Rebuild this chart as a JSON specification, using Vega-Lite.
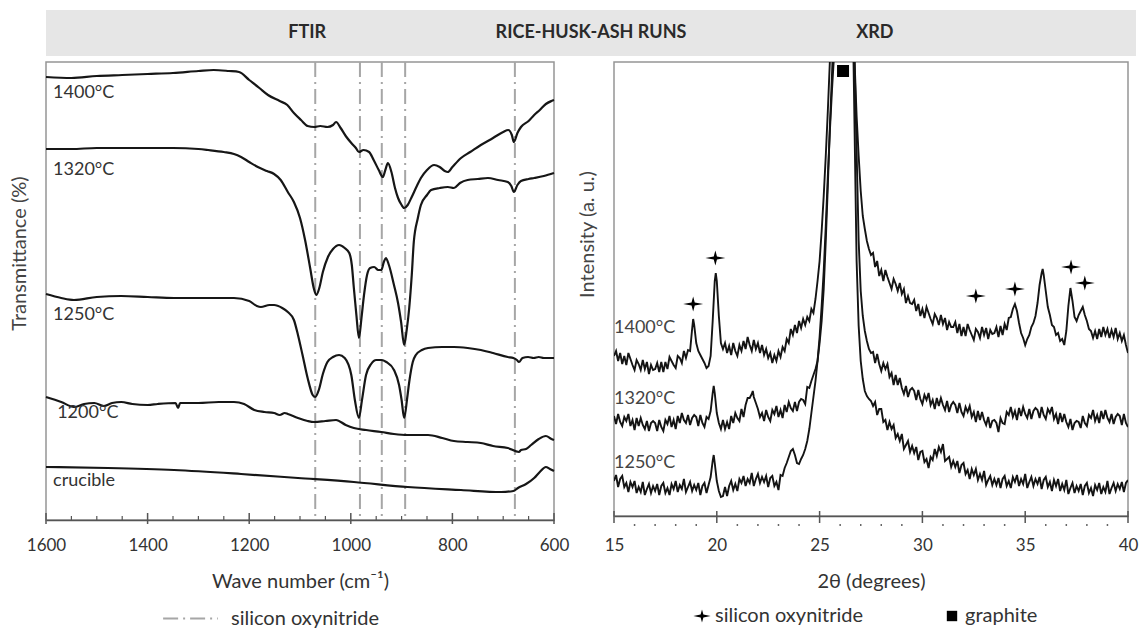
{
"$schema": "https://vega.github.io/schema/vega-lite/v6.json",
"padding": {"left": 8, "top": 10, "right": 8, "bottom": 2},
"background": "white",
"config": {
  "font": "Lato",
  "view": {"stroke": "#8f8f8f", "strokeWidth": 1.5},
  "axis": {"labelFont": "Lato", "titleFont": "Lato", "labelColor": "#333333", "titleColor": "#333333", "titleFontWeight": "normal", "grid": false, "labelFlush": false},
  "legend": {"labelFont": "Lato", "labelColor": "#333333"}
},
"spacing": 6,
"bounds": "flush",
"vconcat": [
{
  "width": 1090, "height": 46,
  "view": {"fill": "#e6e6e6", "stroke": null},
  "data": {"values": [{"h": "FTIR"}, {"h": "RICE-HUSK-ASH RUNS"}, {"h": "XRD"}]},
  "mark": {"type": "text", "fontSize": 18, "fontWeight": "bold", "color": "#2a2a2a", "baseline": "middle"},
  "encoding": {
    "x": {"field": "h", "type": "nominal", "sort": null, "scale": {"type": "point", "padding": 0.92}, "axis": null},
    "text": {"field": "h"}
  }
},
{
  "spacing": 60,
  "bounds": "flush",
  "resolve": {"scale": {"strokeDash": "independent", "shape": "independent"}, "legend": {"strokeDash": "independent", "shape": "independent"}},
  "hconcat": [
  {
    "width": 508, "height": 458,
    "view": {"stroke": "#959595", "strokeWidth": 1.5},
    "layer": [
      {
        "data": {"values": [
          {"wn": 1070, "ref": "silicon oxynitride"}, {"wn": 982, "ref": "silicon oxynitride"}, {"wn": 939, "ref": "silicon oxynitride"}, {"wn": 893, "ref": "silicon oxynitride"}, {"wn": 677, "ref": "silicon oxynitride"}
        ]},
        "mark": {"type": "rule", "color": "#a6a6a6", "strokeWidth": 2},
        "encoding": {
          "x": {"field": "wn", "type": "quantitative", "scale": {"domain": [1600, 600], "nice": false, "zero": false},
                "axis": {"values": [1600, 1400, 1200, 1000, 800, 600], "format": "d", "title": "Wave number (cm⁻¹)", "titleFontSize": 20, "labelFontSize": 17, "ticks": false, "labelPadding": 17, "labelFlush": false, "domainColor": "#555555", "domainWidth": 1.5, "titleBaseline": "middle", "titleY": 61}},
          "strokeDash": {"field": "ref", "type": "nominal", "scale": {"domain": ["silicon oxynitride"], "range": [[15, 5, 2, 5]]},
                "legend": {"orient": "none", "legendX": 116, "legendY": 528, "title": null, "padding": 0, "symbolType": "stroke", "symbolSize": 3000, "symbolStrokeWidth": 2, "symbolStrokeColor": "#a6a6a6", "labelFontSize": 20, "labelOffset": 12}}
        }
      },
      {
        "data": {"values": [
          {"wn": 1600}, {"wn": 1400}, {"wn": 1200}, {"wn": 1000}, {"wn": 800}, {"wn": 600}
        ]},
        "mark": {"type": "rule", "color": "#555555", "strokeWidth": 1.5},
        "encoding": {
          "x": {"field": "wn", "type": "quantitative"},
          "y": {"datum": -4},
          "y2": {"datum": 7}
        }
      },
      {
        "data": {"values": [
          {"wn": 1550}, {"wn": 1500}, {"wn": 1450}, {"wn": 1350}, {"wn": 1300}, {"wn": 1250}, {"wn": 1150}, {"wn": 1100}, {"wn": 1050}, {"wn": 950}, {"wn": 900}, {"wn": 850}, {"wn": 750}, {"wn": 700}, {"wn": 650}
        ]},
        "mark": {"type": "rule", "color": "#555555", "strokeWidth": 1.2},
        "encoding": {
          "x": {"field": "wn", "type": "quantitative"},
          "y": {"datum": 0},
          "y2": {"datum": 4}
        }
      },
      {
        "data": {"values": [
{"s":"1400","wn":1600,"T":443},{"s":"1400","wn":1550,"T":442},{"s":"1400","wn":1500,"T":444},{"s":"1400","wn":1450,"T":445},{"s":"1400","wn":1400,"T":446},{"s":"1400","wn":1350,"T":447},{"s":"1400","wn":1300,"T":449},{"s":"1400","wn":1270,"T":450},{"s":"1400","wn":1240,"T":449},{"s":"1400","wn":1220,"T":448},{"s":"1400","wn":1200,"T":440},{"s":"1400","wn":1180,"T":432},{"s":"1400","wn":1163,"T":425},{"s":"1400","wn":1140,"T":419},{"s":"1400","wn":1125,"T":415},{"s":"1400","wn":1112,"T":407},{"s":"1400","wn":1098,"T":400},{"s":"1400","wn":1085,"T":394},{"s":"1400","wn":1072,"T":393},{"s":"1400","wn":1060,"T":394},{"s":"1400","wn":1046,"T":393},{"s":"1400","wn":1035,"T":395},{"s":"1400","wn":1029,"T":398},{"s":"1400","wn":1020,"T":392},{"s":"1400","wn":1010,"T":384},{"s":"1400","wn":999,"T":377},{"s":"1400","wn":990,"T":372},{"s":"1400","wn":984,"T":368},{"s":"1400","wn":975,"T":370},{"s":"1400","wn":964,"T":368},{"s":"1400","wn":955,"T":360},{"s":"1400","wn":945,"T":350},{"s":"1400","wn":937,"T":343},{"s":"1400","wn":932,"T":350},{"s":"1400","wn":927,"T":357},{"s":"1400","wn":920,"T":348},{"s":"1400","wn":913,"T":332},{"s":"1400","wn":907,"T":322},{"s":"1400","wn":900,"T":315},{"s":"1400","wn":895,"T":312},{"s":"1400","wn":888,"T":315},{"s":"1400","wn":881,"T":322},{"s":"1400","wn":870,"T":334},{"s":"1400","wn":862,"T":342},{"s":"1400","wn":850,"T":350},{"s":"1400","wn":836,"T":355},{"s":"1400","wn":825,"T":353},{"s":"1400","wn":815,"T":349},{"s":"1400","wn":809,"T":348},{"s":"1400","wn":800,"T":353},{"s":"1400","wn":783,"T":362},{"s":"1400","wn":765,"T":368},{"s":"1400","wn":744,"T":375},{"s":"1400","wn":720,"T":382},{"s":"1400","wn":700,"T":388},{"s":"1400","wn":690,"T":390},{"s":"1400","wn":683,"T":385},{"s":"1400","wn":679,"T":378},{"s":"1400","wn":672,"T":387},{"s":"1400","wn":665,"T":393},{"s":"1400","wn":650,"T":399},{"s":"1400","wn":639,"T":405},{"s":"1400","wn":628,"T":410},{"s":"1400","wn":616,"T":416},{"s":"1400","wn":605,"T":419},{"s":"1400","wn":600,"T":420},
{"s":"1320","wn":1600,"T":371},{"s":"1320","wn":1550,"T":371},{"s":"1320","wn":1500,"T":372},{"s":"1320","wn":1450,"T":372},{"s":"1320","wn":1400,"T":372},{"s":"1320","wn":1350,"T":372},{"s":"1320","wn":1300,"T":371},{"s":"1320","wn":1281,"T":370},{"s":"1320","wn":1250,"T":368},{"s":"1320","wn":1230,"T":366},{"s":"1320","wn":1216,"T":363},{"s":"1320","wn":1200,"T":358},{"s":"1320","wn":1183,"T":353},{"s":"1320","wn":1165,"T":349},{"s":"1320","wn":1151,"T":346},{"s":"1320","wn":1138,"T":340},{"s":"1320","wn":1124,"T":328},{"s":"1320","wn":1112,"T":318},{"s":"1320","wn":1100,"T":302},{"s":"1320","wn":1090,"T":280},{"s":"1320","wn":1080,"T":252},{"s":"1320","wn":1073,"T":232},{"s":"1320","wn":1068,"T":225},{"s":"1320","wn":1062,"T":232},{"s":"1320","wn":1055,"T":248},{"s":"1320","wn":1045,"T":263},{"s":"1320","wn":1035,"T":271},{"s":"1320","wn":1023,"T":275},{"s":"1320","wn":1012,"T":272},{"s":"1320","wn":1003,"T":267},{"s":"1320","wn":998,"T":255},{"s":"1320","wn":994,"T":232},{"s":"1320","wn":989,"T":205},{"s":"1320","wn":984,"T":182},{"s":"1320","wn":979,"T":202},{"s":"1320","wn":974,"T":225},{"s":"1320","wn":968,"T":245},{"s":"1320","wn":962,"T":252},{"s":"1320","wn":954,"T":253},{"s":"1320","wn":946,"T":250},{"s":"1320","wn":940,"T":250},{"s":"1320","wn":935,"T":258},{"s":"1320","wn":931,"T":262},{"s":"1320","wn":925,"T":255},{"s":"1320","wn":915,"T":235},{"s":"1320","wn":907,"T":217},{"s":"1320","wn":901,"T":198},{"s":"1320","wn":895,"T":175},{"s":"1320","wn":890,"T":190},{"s":"1320","wn":885,"T":212},{"s":"1320","wn":880,"T":245},{"s":"1320","wn":876,"T":278},{"s":"1320","wn":868,"T":302},{"s":"1320","wn":862,"T":315},{"s":"1320","wn":850,"T":325},{"s":"1320","wn":842,"T":330},{"s":"1320","wn":825,"T":332},{"s":"1320","wn":809,"T":333},{"s":"1320","wn":797,"T":332},{"s":"1320","wn":785,"T":337},{"s":"1320","wn":770,"T":340},{"s":"1320","wn":750,"T":341},{"s":"1320","wn":730,"T":342},{"s":"1320","wn":710,"T":340},{"s":"1320","wn":691,"T":338},{"s":"1320","wn":684,"T":334},{"s":"1320","wn":679,"T":328},{"s":"1320","wn":672,"T":335},{"s":"1320","wn":665,"T":339},{"s":"1320","wn":650,"T":341},{"s":"1320","wn":639,"T":342},{"s":"1320","wn":620,"T":344},{"s":"1320","wn":600,"T":347},
{"s":"1250","wn":1600,"T":226},{"s":"1250","wn":1570,"T":222},{"s":"1250","wn":1545,"T":220},{"s":"1250","wn":1500,"T":223},{"s":"1250","wn":1452,"T":224},{"s":"1250","wn":1400,"T":223},{"s":"1250","wn":1348,"T":222},{"s":"1250","wn":1300,"T":222},{"s":"1250","wn":1230,"T":222},{"s":"1250","wn":1200,"T":219},{"s":"1250","wn":1185,"T":214},{"s":"1250","wn":1177,"T":213},{"s":"1250","wn":1160,"T":215},{"s":"1250","wn":1151,"T":215},{"s":"1250","wn":1135,"T":212},{"s":"1250","wn":1124,"T":208},{"s":"1250","wn":1112,"T":200},{"s":"1250","wn":1104,"T":185},{"s":"1250","wn":1095,"T":165},{"s":"1250","wn":1085,"T":142},{"s":"1250","wn":1075,"T":125},{"s":"1250","wn":1070,"T":123},{"s":"1250","wn":1063,"T":130},{"s":"1250","wn":1055,"T":146},{"s":"1250","wn":1046,"T":158},{"s":"1250","wn":1035,"T":163},{"s":"1250","wn":1023,"T":165},{"s":"1250","wn":1012,"T":162},{"s":"1250","wn":999,"T":145},{"s":"1250","wn":992,"T":120},{"s":"1250","wn":984,"T":102},{"s":"1250","wn":978,"T":120},{"s":"1250","wn":970,"T":145},{"s":"1250","wn":960,"T":156},{"s":"1250","wn":950,"T":160},{"s":"1250","wn":940,"T":160},{"s":"1250","wn":930,"T":158},{"s":"1250","wn":915,"T":150},{"s":"1250","wn":905,"T":135},{"s":"1250","wn":900,"T":120},{"s":"1250","wn":895,"T":102},{"s":"1250","wn":889,"T":122},{"s":"1250","wn":885,"T":138},{"s":"1250","wn":878,"T":158},{"s":"1250","wn":872,"T":165},{"s":"1250","wn":860,"T":170},{"s":"1250","wn":848,"T":172},{"s":"1250","wn":820,"T":173},{"s":"1250","wn":797,"T":173},{"s":"1250","wn":770,"T":172},{"s":"1250","wn":744,"T":170},{"s":"1250","wn":720,"T":167},{"s":"1250","wn":691,"T":163},{"s":"1250","wn":680,"T":162},{"s":"1250","wn":673,"T":160},{"s":"1250","wn":669,"T":158},{"s":"1250","wn":662,"T":162},{"s":"1250","wn":651,"T":163},{"s":"1250","wn":640,"T":162},{"s":"1250","wn":630,"T":163},{"s":"1250","wn":620,"T":162},{"s":"1250","wn":600,"T":162},
{"s":"1200","wn":1600,"T":123},{"s":"1200","wn":1570,"T":118},{"s":"1200","wn":1545,"T":113},{"s":"1200","wn":1525,"T":116},{"s":"1200","wn":1505,"T":117},{"s":"1200","wn":1486,"T":114},{"s":"1200","wn":1470,"T":117},{"s":"1200","wn":1452,"T":118},{"s":"1200","wn":1430,"T":116},{"s":"1200","wn":1400,"T":115},{"s":"1200","wn":1380,"T":116},{"s":"1200","wn":1345,"T":117},{"s":"1200","wn":1340,"T":112},{"s":"1200","wn":1336,"T":117},{"s":"1200","wn":1300,"T":117},{"s":"1200","wn":1260,"T":118},{"s":"1200","wn":1230,"T":118},{"s":"1200","wn":1210,"T":116},{"s":"1200","wn":1190,"T":110},{"s":"1200","wn":1170,"T":108},{"s":"1200","wn":1151,"T":107},{"s":"1200","wn":1140,"T":105},{"s":"1200","wn":1130,"T":107},{"s":"1200","wn":1124,"T":106},{"s":"1200","wn":1104,"T":102},{"s":"1200","wn":1085,"T":99},{"s":"1200","wn":1072,"T":98},{"s":"1200","wn":1050,"T":99},{"s":"1200","wn":1029,"T":100},{"s":"1200","wn":1010,"T":95},{"s":"1200","wn":994,"T":92},{"s":"1200","wn":970,"T":90},{"s":"1200","wn":940,"T":88},{"s":"1200","wn":915,"T":86},{"s":"1200","wn":888,"T":85},{"s":"1200","wn":848,"T":85},{"s":"1200","wn":820,"T":82},{"s":"1200","wn":797,"T":79},{"s":"1200","wn":770,"T":78},{"s":"1200","wn":744,"T":77},{"s":"1200","wn":720,"T":74},{"s":"1200","wn":691,"T":72},{"s":"1200","wn":669,"T":68},{"s":"1200","wn":665,"T":70},{"s":"1200","wn":655,"T":71},{"s":"1200","wn":645,"T":75},{"s":"1200","wn":630,"T":81},{"s":"1200","wn":616,"T":84},{"s":"1200","wn":605,"T":81},{"s":"1200","wn":600,"T":80},
{"s":"cr","wn":1600,"T":53},{"s":"cr","wn":1478,"T":52},{"s":"cr","wn":1348,"T":50},{"s":"cr","wn":1216,"T":46},{"s":"cr","wn":1104,"T":42},{"s":"cr","wn":994,"T":38},{"s":"cr","wn":888,"T":33},{"s":"cr","wn":783,"T":30},{"s":"cr","wn":704,"T":28},{"s":"cr","wn":680,"T":29},{"s":"cr","wn":671,"T":32},{"s":"cr","wn":655,"T":36},{"s":"cr","wn":639,"T":42},{"s":"cr","wn":628,"T":48},{"s":"cr","wn":616,"T":53},{"s":"cr","wn":608,"T":51},{"s":"cr","wn":600,"T":49}
        ]},
        "mark": {"type": "line", "interpolate": "monotone", "strokeWidth": 2.2, "color": "#161616"},
        "encoding": {
          "x": {"field": "wn", "type": "quantitative"},
          "y": {"field": "T", "type": "quantitative", "scale": {"domain": [0, 458], "nice": false, "zero": false},
                "axis": {"title": "Transmittance (%)", "labels": false, "ticks": false, "domain": false, "titleFontSize": 20, "titleX": -21, "titleY": 191, "titleBaseline": "alphabetic", "titleColor": "#444444"}},
          "detail": {"field": "s", "type": "nominal"}
        }
      },
      {
        "data": {"values": [
          {"wn": 1586, "T": 427, "label": "1400°C"}, {"wn": 1586, "T": 350, "label": "1320°C"}, {"wn": 1586, "T": 205, "label": "1250°C"}, {"wn": 1578, "T": 107, "label": "1200°C"}, {"wn": 1586, "T": 39, "label": "crucible"}
        ]},
        "mark": {"type": "text", "align": "left", "baseline": "middle", "fontSize": 18, "color": "#333333"},
        "encoding": {
          "x": {"field": "wn", "type": "quantitative"},
          "y": {"field": "T", "type": "quantitative"},
          "text": {"field": "label"}
        }
      }
    ]
  },
  {
    "width": 514, "height": 454,
    "view": {"stroke": "#959595", "strokeWidth": 1.5},
    "layer": [
      {
        "data": {"values": [{"t": 15}, {"t": 20}, {"t": 25}, {"t": 30}, {"t": 35}, {"t": 40}]},
        "mark": {"type": "rule", "color": "#555555", "strokeWidth": 1.5},
        "encoding": {
          "x": {"field": "t", "type": "quantitative", "scale": {"domain": [15, 40], "nice": false, "zero": false},
                "axis": {"values": [15, 20, 25, 30, 35, 40], "title": "2θ (degrees)", "titleFontSize": 20, "labelFontSize": 17, "ticks": false, "labelPadding": 21, "labelFlush": false, "domainColor": "#555555", "domainWidth": 1.5, "titleBaseline": "middle", "titleY": 65}},
          "y": {"datum": -2},
          "y2": {"datum": 10}
        }
      },
      {
        "data": {"values": [{"t": 16}, {"t": 17}, {"t": 18}, {"t": 19}, {"t": 21}, {"t": 22}, {"t": 23}, {"t": 24}, {"t": 26}, {"t": 27}, {"t": 28}, {"t": 29}, {"t": 31}, {"t": 32}, {"t": 33}, {"t": 34}, {"t": 36}, {"t": 37}, {"t": 38}, {"t": 39}]},
        "mark": {"type": "rule", "color": "#666666", "strokeWidth": 1.5},
        "encoding": {
          "x": {"field": "t", "type": "quantitative"},
          "y": {"datum": -3},
          "y2": {"datum": -5}
        }
      },
      {
        "data": {"values": [
{"s":"1400","t":15.0,"I":165},{"s":"1400","t":15.1,"I":170},{"s":"1400","t":15.2,"I":160},{"s":"1400","t":15.3,"I":168},{"s":"1400","t":15.4,"I":157},{"s":"1400","t":15.5,"I":165},{"s":"1400","t":15.6,"I":156},{"s":"1400","t":15.7,"I":168},{"s":"1400","t":15.8,"I":162},{"s":"1400","t":15.9,"I":156},{"s":"1400","t":16.0,"I":151},{"s":"1400","t":16.1,"I":161},{"s":"1400","t":16.2,"I":157},{"s":"1400","t":16.3,"I":151},{"s":"1400","t":16.4,"I":161},{"s":"1400","t":16.5,"I":152},{"s":"1400","t":16.6,"I":159},{"s":"1400","t":16.7,"I":147},{"s":"1400","t":16.8,"I":156},{"s":"1400","t":16.9,"I":151},{"s":"1400","t":17.0,"I":152},{"s":"1400","t":17.1,"I":158},{"s":"1400","t":17.2,"I":149},{"s":"1400","t":17.3,"I":159},{"s":"1400","t":17.4,"I":149},{"s":"1400","t":17.5,"I":159},{"s":"1400","t":17.6,"I":152},{"s":"1400","t":17.7,"I":164},{"s":"1400","t":17.8,"I":160},{"s":"1400","t":17.9,"I":156},{"s":"1400","t":18.0,"I":153},{"s":"1400","t":18.1,"I":165},{"s":"1400","t":18.2,"I":163},{"s":"1400","t":18.3,"I":158},{"s":"1400","t":18.4,"I":170},{"s":"1400","t":18.5,"I":163},{"s":"1400","t":18.6,"I":171},{"s":"1400","t":18.7,"I":170},{"s":"1400","t":18.8,"I":192},{"s":"1400","t":18.85,"I":202},{"s":"1400","t":18.9,"I":196},{"s":"1400","t":19.0,"I":178},{"s":"1400","t":19.1,"I":170},{"s":"1400","t":19.2,"I":166},{"s":"1400","t":19.3,"I":162},{"s":"1400","t":19.4,"I":158},{"s":"1400","t":19.5,"I":153},{"s":"1400","t":19.6,"I":155},{"s":"1400","t":19.7,"I":165},{"s":"1400","t":19.8,"I":200},{"s":"1400","t":19.9,"I":240},{"s":"1400","t":19.95,"I":248},{"s":"1400","t":20.0,"I":240},{"s":"1400","t":20.1,"I":205},{"s":"1400","t":20.2,"I":178},{"s":"1400","t":20.3,"I":172},{"s":"1400","t":20.4,"I":178},{"s":"1400","t":20.5,"I":168},{"s":"1400","t":20.6,"I":175},{"s":"1400","t":20.7,"I":166},{"s":"1400","t":20.8,"I":178},{"s":"1400","t":20.9,"I":170},{"s":"1400","t":21.0,"I":165},{"s":"1400","t":21.1,"I":176},{"s":"1400","t":21.2,"I":170},{"s":"1400","t":21.3,"I":180},{"s":"1400","t":21.4,"I":172},{"s":"1400","t":21.5,"I":184},{"s":"1400","t":21.6,"I":176},{"s":"1400","t":21.7,"I":170},{"s":"1400","t":21.8,"I":181},{"s":"1400","t":21.9,"I":172},{"s":"1400","t":22.0,"I":178},{"s":"1400","t":22.1,"I":168},{"s":"1400","t":22.2,"I":176},{"s":"1400","t":22.3,"I":166},{"s":"1400","t":22.4,"I":172},{"s":"1400","t":22.5,"I":163},{"s":"1400","t":22.6,"I":168},{"s":"1400","t":22.7,"I":158},{"s":"1400","t":22.8,"I":166},{"s":"1400","t":22.9,"I":160},{"s":"1400","t":23.0,"I":170},{"s":"1400","t":23.1,"I":164},{"s":"1400","t":23.2,"I":174},{"s":"1400","t":23.3,"I":170},{"s":"1400","t":23.4,"I":182},{"s":"1400","t":23.5,"I":178},{"s":"1400","t":23.6,"I":192},{"s":"1400","t":23.7,"I":186},{"s":"1400","t":23.8,"I":196},{"s":"1400","t":23.9,"I":188},{"s":"1400","t":24.0,"I":200},{"s":"1400","t":24.1,"I":193},{"s":"1400","t":24.2,"I":202},{"s":"1400","t":24.3,"I":196},{"s":"1400","t":24.4,"I":204},{"s":"1400","t":24.5,"I":200},{"s":"1400","t":24.6,"I":212},{"s":"1400","t":24.7,"I":208},{"s":"1400","t":24.8,"I":222},{"s":"1400","t":24.9,"I":240},{"s":"1400","t":25.0,"I":260},{"s":"1400","t":25.1,"I":290},{"s":"1400","t":25.2,"I":325},{"s":"1400","t":25.3,"I":365},{"s":"1400","t":25.4,"I":410},{"s":"1400","t":25.5,"I":460},{"s":"1400","t":25.6,"I":530},{"s":"1400","t":25.8,"I":680},{"s":"1400","t":26.0,"I":820},{"s":"1400","t":26.2,"I":900},{"s":"1400","t":26.4,"I":860},{"s":"1400","t":26.5,"I":720},{"s":"1400","t":26.6,"I":560},{"s":"1400","t":26.7,"I":460},{"s":"1400","t":26.8,"I":405},{"s":"1400","t":26.9,"I":365},{"s":"1400","t":27.0,"I":330},{"s":"1400","t":27.1,"I":305},{"s":"1400","t":27.2,"I":292},{"s":"1400","t":27.3,"I":280},{"s":"1400","t":27.4,"I":272},{"s":"1400","t":27.5,"I":266},{"s":"1400","t":27.6,"I":268},{"s":"1400","t":27.7,"I":254},{"s":"1400","t":27.8,"I":260},{"s":"1400","t":27.9,"I":245},{"s":"1400","t":28.0,"I":251},{"s":"1400","t":28.1,"I":240},{"s":"1400","t":28.2,"I":251},{"s":"1400","t":28.3,"I":244},{"s":"1400","t":28.4,"I":238},{"s":"1400","t":28.5,"I":232},{"s":"1400","t":28.6,"I":242},{"s":"1400","t":28.7,"I":237},{"s":"1400","t":28.8,"I":230},{"s":"1400","t":28.9,"I":238},{"s":"1400","t":29.0,"I":227},{"s":"1400","t":29.1,"I":232},{"s":"1400","t":29.2,"I":218},{"s":"1400","t":29.3,"I":225},{"s":"1400","t":29.4,"I":218},{"s":"1400","t":29.5,"I":217},{"s":"1400","t":29.6,"I":221},{"s":"1400","t":29.7,"I":210},{"s":"1400","t":29.8,"I":217},{"s":"1400","t":29.9,"I":205},{"s":"1400","t":30.0,"I":212},{"s":"1400","t":30.1,"I":203},{"s":"1400","t":30.2,"I":214},{"s":"1400","t":30.3,"I":208},{"s":"1400","t":30.4,"I":202},{"s":"1400","t":30.5,"I":197},{"s":"1400","t":30.6,"I":207},{"s":"1400","t":30.7,"I":203},{"s":"1400","t":30.8,"I":196},{"s":"1400","t":30.9,"I":206},{"s":"1400","t":31.0,"I":197},{"s":"1400","t":31.1,"I":203},{"s":"1400","t":31.2,"I":191},{"s":"1400","t":31.3,"I":199},{"s":"1400","t":31.4,"I":194},{"s":"1400","t":31.5,"I":194},{"s":"1400","t":31.6,"I":199},{"s":"1400","t":31.7,"I":188},{"s":"1400","t":31.8,"I":197},{"s":"1400","t":31.9,"I":185},{"s":"1400","t":32.0,"I":194},{"s":"1400","t":32.1,"I":185},{"s":"1400","t":32.2,"I":197},{"s":"1400","t":32.3,"I":191},{"s":"1400","t":32.4,"I":186},{"s":"1400","t":32.5,"I":181},{"s":"1400","t":32.6,"I":192},{"s":"1400","t":32.7,"I":189},{"s":"1400","t":32.8,"I":183},{"s":"1400","t":32.9,"I":194},{"s":"1400","t":33.0,"I":186},{"s":"1400","t":33.1,"I":193},{"s":"1400","t":33.2,"I":182},{"s":"1400","t":33.3,"I":191},{"s":"1400","t":33.4,"I":187},{"s":"1400","t":33.5,"I":188},{"s":"1400","t":33.6,"I":194},{"s":"1400","t":33.7,"I":184},{"s":"1400","t":33.8,"I":195},{"s":"1400","t":33.9,"I":186},{"s":"1400","t":34.0,"I":197},{"s":"1400","t":34.1,"I":191},{"s":"1400","t":34.2,"I":203},{"s":"1400","t":34.3,"I":204},{"s":"1400","t":34.4,"I":212},{"s":"1400","t":34.5,"I":217},{"s":"1400","t":34.6,"I":210},{"s":"1400","t":34.7,"I":198},{"s":"1400","t":34.8,"I":188},{"s":"1400","t":34.9,"I":183},{"s":"1400","t":35.0,"I":176},{"s":"1400","t":35.1,"I":182},{"s":"1400","t":35.2,"I":186},{"s":"1400","t":35.3,"I":194},{"s":"1400","t":35.4,"I":198},{"s":"1400","t":35.5,"I":205},{"s":"1400","t":35.6,"I":218},{"s":"1400","t":35.7,"I":236},{"s":"1400","t":35.8,"I":248},{"s":"1400","t":35.85,"I":252},{"s":"1400","t":35.9,"I":246},{"s":"1400","t":36.0,"I":230},{"s":"1400","t":36.1,"I":214},{"s":"1400","t":36.2,"I":206},{"s":"1400","t":36.3,"I":196},{"s":"1400","t":36.4,"I":194},{"s":"1400","t":36.5,"I":186},{"s":"1400","t":36.6,"I":188},{"s":"1400","t":36.7,"I":180},{"s":"1400","t":36.8,"I":182},{"s":"1400","t":36.9,"I":176},{"s":"1400","t":37.0,"I":190},{"s":"1400","t":37.1,"I":215},{"s":"1400","t":37.2,"I":233},{"s":"1400","t":37.3,"I":220},{"s":"1400","t":37.4,"I":204},{"s":"1400","t":37.5,"I":200},{"s":"1400","t":37.6,"I":206},{"s":"1400","t":37.7,"I":210},{"s":"1400","t":37.8,"I":214},{"s":"1400","t":37.9,"I":206},{"s":"1400","t":38.0,"I":200},{"s":"1400","t":38.1,"I":192},{"s":"1400","t":38.2,"I":190},{"s":"1400","t":38.3,"I":183},{"s":"1400","t":38.4,"I":190},{"s":"1400","t":38.5,"I":182},{"s":"1400","t":38.6,"I":192},{"s":"1400","t":38.7,"I":184},{"s":"1400","t":38.8,"I":194},{"s":"1400","t":38.9,"I":186},{"s":"1400","t":39.0,"I":192},{"s":"1400","t":39.1,"I":183},{"s":"1400","t":39.2,"I":191},{"s":"1400","t":39.3,"I":184},{"s":"1400","t":39.4,"I":193},{"s":"1400","t":39.5,"I":182},{"s":"1400","t":39.6,"I":188},{"s":"1400","t":39.7,"I":180},{"s":"1400","t":39.8,"I":186},{"s":"1400","t":39.9,"I":176},{"s":"1400","t":40.0,"I":168},
{"s":"1320","t":15.0,"I":105},{"s":"1320","t":15.1,"I":97},{"s":"1320","t":15.2,"I":107},{"s":"1320","t":15.3,"I":99},{"s":"1320","t":15.4,"I":95},{"s":"1320","t":15.5,"I":104},{"s":"1320","t":15.6,"I":100},{"s":"1320","t":15.7,"I":107},{"s":"1320","t":15.8,"I":95},{"s":"1320","t":15.9,"I":101},{"s":"1320","t":16.0,"I":91},{"s":"1320","t":16.1,"I":103},{"s":"1320","t":16.2,"I":95},{"s":"1320","t":16.3,"I":103},{"s":"1320","t":16.4,"I":96},{"s":"1320","t":16.5,"I":92},{"s":"1320","t":16.6,"I":100},{"s":"1320","t":16.7,"I":90},{"s":"1320","t":16.8,"I":98},{"s":"1320","t":16.9,"I":100},{"s":"1320","t":17.0,"I":98},{"s":"1320","t":17.1,"I":90},{"s":"1320","t":17.2,"I":101},{"s":"1320","t":17.3,"I":94},{"s":"1320","t":17.4,"I":90},{"s":"1320","t":17.5,"I":101},{"s":"1320","t":17.6,"I":97},{"s":"1320","t":17.7,"I":105},{"s":"1320","t":17.8,"I":94},{"s":"1320","t":17.9,"I":101},{"s":"1320","t":18.0,"I":92},{"s":"1320","t":18.1,"I":105},{"s":"1320","t":18.2,"I":98},{"s":"1320","t":18.3,"I":108},{"s":"1320","t":18.4,"I":101},{"s":"1320","t":18.5,"I":98},{"s":"1320","t":18.6,"I":106},{"s":"1320","t":18.7,"I":96},{"s":"1320","t":18.8,"I":103},{"s":"1320","t":18.9,"I":106},{"s":"1320","t":19.0,"I":104},{"s":"1320","t":19.1,"I":95},{"s":"1320","t":19.2,"I":106},{"s":"1320","t":19.3,"I":98},{"s":"1320","t":19.4,"I":94},{"s":"1320","t":19.5,"I":104},{"s":"1320","t":19.6,"I":102},{"s":"1320","t":19.7,"I":110},{"s":"1320","t":19.8,"I":128},{"s":"1320","t":19.85,"I":135},{"s":"1320","t":19.9,"I":128},{"s":"1320","t":20.0,"I":108},{"s":"1320","t":20.1,"I":98},{"s":"1320","t":20.2,"I":92},{"s":"1320","t":20.3,"I":101},{"s":"1320","t":20.4,"I":92},{"s":"1320","t":20.5,"I":99},{"s":"1320","t":20.6,"I":92},{"s":"1320","t":20.7,"I":105},{"s":"1320","t":20.8,"I":98},{"s":"1320","t":20.9,"I":108},{"s":"1320","t":21.0,"I":103},{"s":"1320","t":21.1,"I":100},{"s":"1320","t":21.2,"I":112},{"s":"1320","t":21.3,"I":104},{"s":"1320","t":21.4,"I":116},{"s":"1320","t":21.5,"I":123},{"s":"1320","t":21.6,"I":123},{"s":"1320","t":21.7,"I":127},{"s":"1320","t":21.75,"I":130},{"s":"1320","t":21.8,"I":124},{"s":"1320","t":21.9,"I":118},{"s":"1320","t":22.0,"I":112},{"s":"1320","t":22.1,"I":104},{"s":"1320","t":22.2,"I":108},{"s":"1320","t":22.3,"I":100},{"s":"1320","t":22.4,"I":111},{"s":"1320","t":22.5,"I":104},{"s":"1320","t":22.6,"I":100},{"s":"1320","t":22.7,"I":111},{"s":"1320","t":22.8,"I":107},{"s":"1320","t":22.9,"I":115},{"s":"1320","t":23.0,"I":104},{"s":"1320","t":23.1,"I":111},{"s":"1320","t":23.2,"I":103},{"s":"1320","t":23.3,"I":116},{"s":"1320","t":23.4,"I":109},{"s":"1320","t":23.5,"I":119},{"s":"1320","t":23.6,"I":113},{"s":"1320","t":23.7,"I":110},{"s":"1320","t":23.8,"I":119},{"s":"1320","t":23.9,"I":110},{"s":"1320","t":24.0,"I":119},{"s":"1320","t":24.1,"I":122},{"s":"1320","t":24.2,"I":121},{"s":"1320","t":24.3,"I":117},{"s":"1320","t":24.4,"I":134},{"s":"1320","t":24.5,"I":133},{"s":"1320","t":24.6,"I":140},{"s":"1320","t":24.7,"I":146},{"s":"1320","t":24.8,"I":152},{"s":"1320","t":24.9,"I":160},{"s":"1320","t":25.0,"I":178},{"s":"1320","t":25.1,"I":200},{"s":"1320","t":25.2,"I":232},{"s":"1320","t":25.3,"I":280},{"s":"1320","t":25.4,"I":335},{"s":"1320","t":25.5,"I":395},{"s":"1320","t":25.6,"I":445},{"s":"1320","t":25.7,"I":500},{"s":"1320","t":25.8,"I":580},{"s":"1320","t":26.0,"I":760},{"s":"1320","t":26.2,"I":880},{"s":"1320","t":26.4,"I":840},{"s":"1320","t":26.5,"I":700},{"s":"1320","t":26.6,"I":540},{"s":"1320","t":26.7,"I":460},{"s":"1320","t":26.8,"I":370},{"s":"1320","t":26.9,"I":280},{"s":"1320","t":27.0,"I":230},{"s":"1320","t":27.1,"I":205},{"s":"1320","t":27.2,"I":190},{"s":"1320","t":27.3,"I":180},{"s":"1320","t":27.4,"I":172},{"s":"1320","t":27.5,"I":168},{"s":"1320","t":27.6,"I":169},{"s":"1320","t":27.7,"I":158},{"s":"1320","t":27.8,"I":167},{"s":"1320","t":27.9,"I":157},{"s":"1320","t":28.0,"I":150},{"s":"1320","t":28.1,"I":158},{"s":"1320","t":28.2,"I":152},{"s":"1320","t":28.3,"I":157},{"s":"1320","t":28.4,"I":144},{"s":"1320","t":28.5,"I":148},{"s":"1320","t":28.6,"I":136},{"s":"1320","t":28.7,"I":146},{"s":"1320","t":28.8,"I":136},{"s":"1320","t":28.9,"I":143},{"s":"1320","t":29.0,"I":133},{"s":"1320","t":29.1,"I":127},{"s":"1320","t":29.2,"I":135},{"s":"1320","t":29.3,"I":124},{"s":"1320","t":29.4,"I":131},{"s":"1320","t":29.5,"I":133},{"s":"1320","t":29.6,"I":130},{"s":"1320","t":29.7,"I":121},{"s":"1320","t":29.8,"I":131},{"s":"1320","t":29.9,"I":122},{"s":"1320","t":30.0,"I":117},{"s":"1320","t":30.1,"I":126},{"s":"1320","t":30.2,"I":121},{"s":"1320","t":30.3,"I":128},{"s":"1320","t":30.4,"I":116},{"s":"1320","t":30.5,"I":121},{"s":"1320","t":30.6,"I":112},{"s":"1320","t":30.7,"I":123},{"s":"1320","t":30.8,"I":115},{"s":"1320","t":30.9,"I":123},{"s":"1320","t":31.0,"I":116},{"s":"1320","t":31.1,"I":111},{"s":"1320","t":31.2,"I":120},{"s":"1320","t":31.3,"I":109},{"s":"1320","t":31.4,"I":116},{"s":"1320","t":31.5,"I":119},{"s":"1320","t":31.6,"I":116},{"s":"1320","t":31.7,"I":108},{"s":"1320","t":31.8,"I":118},{"s":"1320","t":31.9,"I":109},{"s":"1320","t":32.0,"I":105},{"s":"1320","t":32.1,"I":114},{"s":"1320","t":32.2,"I":109},{"s":"1320","t":32.3,"I":115},{"s":"1320","t":32.4,"I":104},{"s":"1320","t":32.5,"I":109},{"s":"1320","t":32.6,"I":99},{"s":"1320","t":32.7,"I":110},{"s":"1320","t":32.8,"I":101},{"s":"1320","t":32.9,"I":109},{"s":"1320","t":33.0,"I":101},{"s":"1320","t":33.1,"I":96},{"s":"1320","t":33.2,"I":104},{"s":"1320","t":33.3,"I":93},{"s":"1320","t":33.4,"I":100},{"s":"1320","t":33.5,"I":101},{"s":"1320","t":33.6,"I":98},{"s":"1320","t":33.7,"I":89},{"s":"1320","t":33.8,"I":103},{"s":"1320","t":33.9,"I":98},{"s":"1320","t":34.0,"I":97},{"s":"1320","t":34.1,"I":109},{"s":"1320","t":34.2,"I":106},{"s":"1320","t":34.3,"I":114},{"s":"1320","t":34.4,"I":104},{"s":"1320","t":34.5,"I":110},{"s":"1320","t":34.6,"I":101},{"s":"1320","t":34.7,"I":113},{"s":"1320","t":34.8,"I":105},{"s":"1320","t":34.9,"I":114},{"s":"1320","t":35.0,"I":107},{"s":"1320","t":35.1,"I":103},{"s":"1320","t":35.2,"I":112},{"s":"1320","t":35.3,"I":102},{"s":"1320","t":35.4,"I":110},{"s":"1320","t":35.5,"I":113},{"s":"1320","t":35.6,"I":111},{"s":"1320","t":35.7,"I":103},{"s":"1320","t":35.8,"I":114},{"s":"1320","t":35.9,"I":106},{"s":"1320","t":36.0,"I":102},{"s":"1320","t":36.1,"I":112},{"s":"1320","t":36.2,"I":108},{"s":"1320","t":36.3,"I":114},{"s":"1320","t":36.4,"I":102},{"s":"1320","t":36.5,"I":107},{"s":"1320","t":36.6,"I":97},{"s":"1320","t":36.7,"I":108},{"s":"1320","t":36.8,"I":99},{"s":"1320","t":36.9,"I":107},{"s":"1320","t":37.0,"I":99},{"s":"1320","t":37.1,"I":94},{"s":"1320","t":37.2,"I":102},{"s":"1320","t":37.3,"I":91},{"s":"1320","t":37.4,"I":98},{"s":"1320","t":37.5,"I":100},{"s":"1320","t":37.6,"I":99},{"s":"1320","t":37.7,"I":93},{"s":"1320","t":37.8,"I":105},{"s":"1320","t":37.9,"I":98},{"s":"1320","t":38.0,"I":95},{"s":"1320","t":38.1,"I":106},{"s":"1320","t":38.2,"I":103},{"s":"1320","t":38.3,"I":111},{"s":"1320","t":38.4,"I":100},{"s":"1320","t":38.5,"I":106},{"s":"1320","t":38.6,"I":98},{"s":"1320","t":38.7,"I":110},{"s":"1320","t":38.8,"I":102},{"s":"1320","t":38.9,"I":111},{"s":"1320","t":39.0,"I":103},{"s":"1320","t":39.1,"I":99},{"s":"1320","t":39.2,"I":107},{"s":"1320","t":39.3,"I":97},{"s":"1320","t":39.4,"I":104},{"s":"1320","t":39.5,"I":107},{"s":"1320","t":39.6,"I":105},{"s":"1320","t":39.7,"I":96},{"s":"1320","t":39.8,"I":107},{"s":"1320","t":39.9,"I":98},{"s":"1320","t":40.0,"I":94},
{"s":"1250","t":15.0,"I":40},{"s":"1250","t":15.1,"I":46},{"s":"1250","t":15.2,"I":34},{"s":"1250","t":15.3,"I":42},{"s":"1250","t":15.4,"I":45},{"s":"1250","t":15.5,"I":34},{"s":"1250","t":15.6,"I":38},{"s":"1250","t":15.7,"I":29},{"s":"1250","t":15.8,"I":39},{"s":"1250","t":15.9,"I":34},{"s":"1250","t":16.0,"I":40},{"s":"1250","t":16.1,"I":28},{"s":"1250","t":16.2,"I":34},{"s":"1250","t":16.3,"I":29},{"s":"1250","t":16.4,"I":39},{"s":"1250","t":16.5,"I":26},{"s":"1250","t":16.6,"I":32},{"s":"1250","t":16.7,"I":37},{"s":"1250","t":16.8,"I":28},{"s":"1250","t":16.9,"I":35},{"s":"1250","t":17.0,"I":30},{"s":"1250","t":17.1,"I":37},{"s":"1250","t":17.2,"I":26},{"s":"1250","t":17.3,"I":35},{"s":"1250","t":17.4,"I":38},{"s":"1250","t":17.5,"I":28},{"s":"1250","t":17.6,"I":33},{"s":"1250","t":17.7,"I":26},{"s":"1250","t":17.8,"I":37},{"s":"1250","t":17.9,"I":32},{"s":"1250","t":18.0,"I":40},{"s":"1250","t":18.1,"I":29},{"s":"1250","t":18.2,"I":36},{"s":"1250","t":18.3,"I":32},{"s":"1250","t":18.4,"I":42},{"s":"1250","t":18.5,"I":29},{"s":"1250","t":18.6,"I":34},{"s":"1250","t":18.7,"I":39},{"s":"1250","t":18.8,"I":30},{"s":"1250","t":18.9,"I":36},{"s":"1250","t":19.0,"I":31},{"s":"1250","t":19.1,"I":38},{"s":"1250","t":19.2,"I":26},{"s":"1250","t":19.3,"I":35},{"s":"1250","t":19.4,"I":38},{"s":"1250","t":19.5,"I":28},{"s":"1250","t":19.6,"I":36},{"s":"1250","t":19.7,"I":44},{"s":"1250","t":19.8,"I":60},{"s":"1250","t":19.85,"I":66},{"s":"1250","t":19.9,"I":58},{"s":"1250","t":20.0,"I":40},{"s":"1250","t":20.1,"I":30},{"s":"1250","t":20.2,"I":24},{"s":"1250","t":20.3,"I":25},{"s":"1250","t":20.4,"I":34},{"s":"1250","t":20.5,"I":25},{"s":"1250","t":20.6,"I":35},{"s":"1250","t":20.7,"I":40},{"s":"1250","t":20.8,"I":31},{"s":"1250","t":20.9,"I":37},{"s":"1250","t":21.0,"I":30},{"s":"1250","t":21.1,"I":42},{"s":"1250","t":21.2,"I":38},{"s":"1250","t":21.3,"I":45},{"s":"1250","t":21.4,"I":35},{"s":"1250","t":21.5,"I":42},{"s":"1250","t":21.6,"I":38},{"s":"1250","t":21.7,"I":48},{"s":"1250","t":21.8,"I":35},{"s":"1250","t":21.9,"I":42},{"s":"1250","t":22.0,"I":47},{"s":"1250","t":22.1,"I":38},{"s":"1250","t":22.2,"I":44},{"s":"1250","t":22.3,"I":39},{"s":"1250","t":22.4,"I":45},{"s":"1250","t":22.5,"I":34},{"s":"1250","t":22.6,"I":43},{"s":"1250","t":22.7,"I":45},{"s":"1250","t":22.8,"I":35},{"s":"1250","t":22.9,"I":39},{"s":"1250","t":23.0,"I":31},{"s":"1250","t":23.1,"I":46},{"s":"1250","t":23.2,"I":45},{"s":"1250","t":23.3,"I":53},{"s":"1250","t":23.4,"I":58},{"s":"1250","t":23.5,"I":64},{"s":"1250","t":23.6,"I":70},{"s":"1250","t":23.7,"I":72},{"s":"1250","t":23.8,"I":66},{"s":"1250","t":23.9,"I":58},{"s":"1250","t":24.0,"I":57},{"s":"1250","t":24.1,"I":62},{"s":"1250","t":24.2,"I":66},{"s":"1250","t":24.3,"I":72},{"s":"1250","t":24.4,"I":80},{"s":"1250","t":24.5,"I":92},{"s":"1250","t":24.6,"I":108},{"s":"1250","t":24.7,"I":124},{"s":"1250","t":24.8,"I":140},{"s":"1250","t":24.9,"I":160},{"s":"1250","t":25.0,"I":184},{"s":"1250","t":25.1,"I":215},{"s":"1250","t":25.2,"I":250},{"s":"1250","t":25.3,"I":295},{"s":"1250","t":25.4,"I":345},{"s":"1250","t":25.5,"I":390},{"s":"1250","t":25.6,"I":430},{"s":"1250","t":25.7,"I":465},{"s":"1250","t":25.8,"I":540},{"s":"1250","t":26.0,"I":720},{"s":"1250","t":26.2,"I":860},{"s":"1250","t":26.35,"I":860},{"s":"1250","t":26.45,"I":700},{"s":"1250","t":26.55,"I":540},{"s":"1250","t":26.65,"I":460},{"s":"1250","t":26.8,"I":260},{"s":"1250","t":26.9,"I":195},{"s":"1250","t":27.0,"I":160},{"s":"1250","t":27.1,"I":142},{"s":"1250","t":27.2,"I":130},{"s":"1250","t":27.3,"I":125},{"s":"1250","t":27.4,"I":122},{"s":"1250","t":27.5,"I":120},{"s":"1250","t":27.6,"I":115},{"s":"1250","t":27.7,"I":119},{"s":"1250","t":27.8,"I":106},{"s":"1250","t":27.9,"I":112},{"s":"1250","t":28.0,"I":112},{"s":"1250","t":28.1,"I":99},{"s":"1250","t":28.2,"I":101},{"s":"1250","t":28.3,"I":91},{"s":"1250","t":28.4,"I":99},{"s":"1250","t":28.5,"I":92},{"s":"1250","t":28.6,"I":96},{"s":"1250","t":28.7,"I":83},{"s":"1250","t":28.8,"I":87},{"s":"1250","t":28.9,"I":80},{"s":"1250","t":29.0,"I":87},{"s":"1250","t":29.1,"I":72},{"s":"1250","t":29.2,"I":76},{"s":"1250","t":29.3,"I":80},{"s":"1250","t":29.4,"I":69},{"s":"1250","t":29.5,"I":75},{"s":"1250","t":29.6,"I":68},{"s":"1250","t":29.7,"I":74},{"s":"1250","t":29.8,"I":61},{"s":"1250","t":29.9,"I":69},{"s":"1250","t":30.0,"I":70},{"s":"1250","t":30.1,"I":59},{"s":"1250","t":30.2,"I":62},{"s":"1250","t":30.3,"I":53},{"s":"1250","t":30.4,"I":64},{"s":"1250","t":30.5,"I":61},{"s":"1250","t":30.6,"I":72},{"s":"1250","t":30.7,"I":65},{"s":"1250","t":30.8,"I":74},{"s":"1250","t":30.9,"I":69},{"s":"1250","t":31.0,"I":77},{"s":"1250","t":31.1,"I":60},{"s":"1250","t":31.2,"I":62},{"s":"1250","t":31.3,"I":64},{"s":"1250","t":31.4,"I":54},{"s":"1250","t":31.5,"I":60},{"s":"1250","t":31.6,"I":54},{"s":"1250","t":31.7,"I":60},{"s":"1250","t":31.8,"I":48},{"s":"1250","t":31.9,"I":56},{"s":"1250","t":32.0,"I":58},{"s":"1250","t":32.1,"I":47},{"s":"1250","t":32.2,"I":51},{"s":"1250","t":32.3,"I":42},{"s":"1250","t":32.4,"I":52},{"s":"1250","t":32.5,"I":46},{"s":"1250","t":32.6,"I":52},{"s":"1250","t":32.7,"I":41},{"s":"1250","t":32.8,"I":47},{"s":"1250","t":32.9,"I":41},{"s":"1250","t":33.0,"I":50},{"s":"1250","t":33.1,"I":36},{"s":"1250","t":33.2,"I":41},{"s":"1250","t":33.3,"I":45},{"s":"1250","t":33.4,"I":36},{"s":"1250","t":33.5,"I":42},{"s":"1250","t":33.6,"I":36},{"s":"1250","t":33.7,"I":43},{"s":"1250","t":33.8,"I":33},{"s":"1250","t":33.9,"I":42},{"s":"1250","t":34.0,"I":45},{"s":"1250","t":34.1,"I":35},{"s":"1250","t":34.2,"I":40},{"s":"1250","t":34.3,"I":33},{"s":"1250","t":34.4,"I":44},{"s":"1250","t":34.5,"I":39},{"s":"1250","t":34.6,"I":46},{"s":"1250","t":34.7,"I":35},{"s":"1250","t":34.8,"I":42},{"s":"1250","t":34.9,"I":37},{"s":"1250","t":35.0,"I":47},{"s":"1250","t":35.1,"I":33},{"s":"1250","t":35.2,"I":39},{"s":"1250","t":35.3,"I":44},{"s":"1250","t":35.4,"I":35},{"s":"1250","t":35.5,"I":42},{"s":"1250","t":35.6,"I":37},{"s":"1250","t":35.7,"I":44},{"s":"1250","t":35.8,"I":32},{"s":"1250","t":35.9,"I":41},{"s":"1250","t":36.0,"I":44},{"s":"1250","t":36.1,"I":34},{"s":"1250","t":36.2,"I":39},{"s":"1250","t":36.3,"I":30},{"s":"1250","t":36.4,"I":41},{"s":"1250","t":36.5,"I":35},{"s":"1250","t":36.6,"I":42},{"s":"1250","t":36.7,"I":30},{"s":"1250","t":36.8,"I":37},{"s":"1250","t":36.9,"I":31},{"s":"1250","t":37.0,"I":41},{"s":"1250","t":37.1,"I":27},{"s":"1250","t":37.2,"I":33},{"s":"1250","t":37.3,"I":38},{"s":"1250","t":37.4,"I":28},{"s":"1250","t":37.5,"I":35},{"s":"1250","t":37.6,"I":30},{"s":"1250","t":37.7,"I":37},{"s":"1250","t":37.8,"I":26},{"s":"1250","t":37.9,"I":35},{"s":"1250","t":38.0,"I":38},{"s":"1250","t":38.1,"I":28},{"s":"1250","t":38.2,"I":33},{"s":"1250","t":38.3,"I":25},{"s":"1250","t":38.4,"I":36},{"s":"1250","t":38.5,"I":31},{"s":"1250","t":38.6,"I":38},{"s":"1250","t":38.7,"I":27},{"s":"1250","t":38.8,"I":34},{"s":"1250","t":38.9,"I":29},{"s":"1250","t":39.0,"I":40},{"s":"1250","t":39.1,"I":27},{"s":"1250","t":39.2,"I":33},{"s":"1250","t":39.3,"I":38},{"s":"1250","t":39.4,"I":30},{"s":"1250","t":39.5,"I":37},{"s":"1250","t":39.6,"I":32},{"s":"1250","t":39.7,"I":39},{"s":"1250","t":39.8,"I":29},{"s":"1250","t":39.9,"I":38},{"s":"1250","t":40.0,"I":41}
        ]},
        "mark": {"type": "line", "strokeWidth": 1.9, "color": "#141414", "clip": true},
        "encoding": {
          "x": {"field": "t", "type": "quantitative"},
          "y": {"field": "I", "type": "quantitative", "scale": {"domain": [5, 459], "nice": false, "zero": false},
                "axis": {"title": "Intensity (a. u.)", "labels": false, "ticks": false, "domain": false, "titleFontSize": 20, "titleX": -21, "titleY": 172, "titleBaseline": "alphabetic", "titleColor": "#444444"}},
          "detail": {"field": "s", "type": "nominal"}
        }
      },
      {
        "data": {"values": [
          {"t": 15.0, "I": 193, "label": "1400°C"}, {"t": 15.0, "I": 122, "label": "1320°C"}, {"t": 15.0, "I": 58, "label": "1250°C"}
        ]},
        "mark": {"type": "text", "align": "left", "baseline": "middle", "fontSize": 18, "color": "#444444"},
        "encoding": {
          "x": {"field": "t", "type": "quantitative"},
          "y": {"field": "I", "type": "quantitative"},
          "text": {"field": "label"}
        }
      },
      {
        "data": {"values": [
          {"t": 18.85, "I": 217, "marker": "silicon oxynitride"}, {"t": 19.93, "I": 263, "marker": "silicon oxynitride"}, {"t": 32.6, "I": 225, "marker": "silicon oxynitride"}, {"t": 34.5, "I": 232, "marker": "silicon oxynitride"}, {"t": 37.23, "I": 254, "marker": "silicon oxynitride"}, {"t": 37.9, "I": 238, "marker": "silicon oxynitride"}, {"t": 26.14, "I": 450, "marker": "graphite"}
        ]},
        "mark": {"type": "point", "filled": true, "color": "#000000", "opacity": 1, "size": 400},
        "encoding": {
          "x": {"field": "t", "type": "quantitative"},
          "y": {"field": "I", "type": "quantitative"},
          "shape": {"field": "marker", "type": "nominal",
            "scale": {"domain": ["silicon oxynitride", "graphite"], "range": ["M0,-0.75L0.16,-0.16L1,0L0.16,0.16L0,0.75L-0.16,0.16L-1,0L-0.16,-0.16Z", "M-0.6,-0.6L0.6,-0.6L0.6,0.6L-0.6,0.6Z"]},
            "legend": {"orient": "none", "legendX": 78, "legendY": 544, "title": null, "padding": 0, "direction": "horizontal", "symbolSize": 300, "symbolFillColor": "#000000", "symbolStrokeColor": "#000000", "symbolOpacity": 1, "labelFontSize": 20, "labelOffset": 3, "columnPadding": 78}}
        }
      }
    ]
  }
  ]
}
]
}
